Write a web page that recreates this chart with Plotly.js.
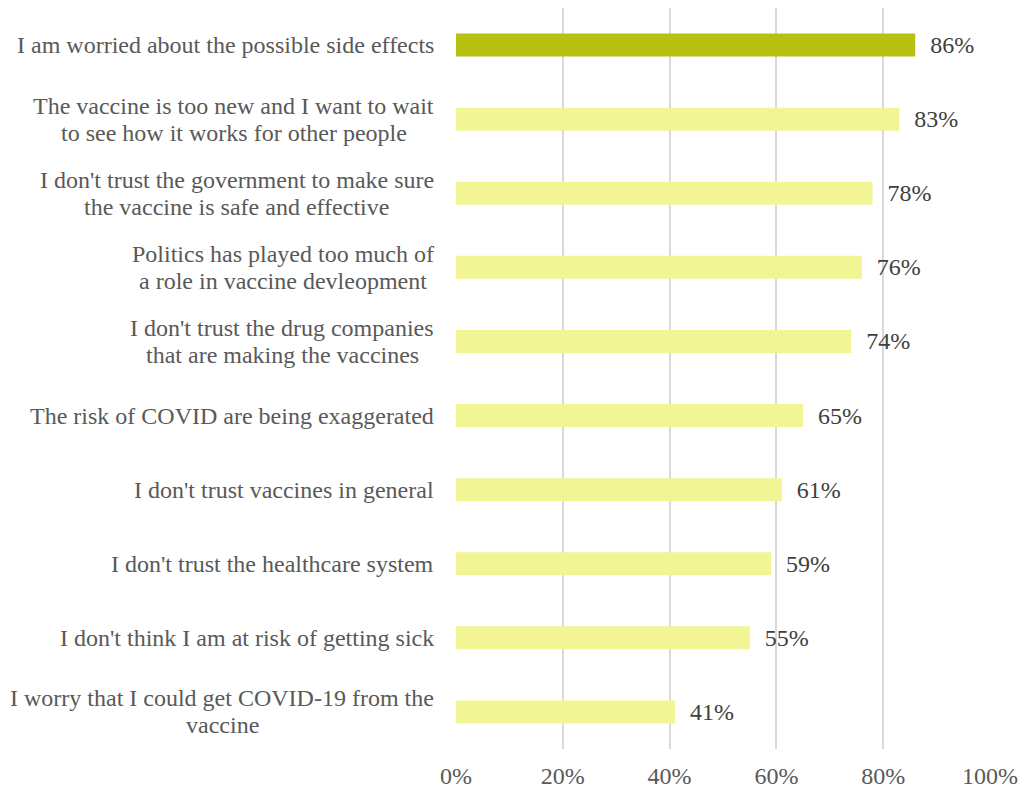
<!DOCTYPE html>
<html><head><meta charset="utf-8">
<script src="https://cdn.plot.ly/plotly-3.0.1.min.js"></script>
<style>html,body{margin:0;padding:0;background:#fff}#c{width:1019px;height:790px}</style>
</head><body><div id="c"></div>
<script>
const categories = [
  "I am worried about the possible side effects",
  "The vaccine is too new and I want to wait<br>to see how it works for other people",
  "I don't trust the government to make sure<br>the vaccine is safe and effective",
  "Politics has played too much of<br>a role in vaccine devleopment",
  "I don't trust the drug companies<br>that are making the vaccines",
  "The risk of COVID are being exaggerated",
  "I don't trust vaccines in general",
  "I don't trust the healthcare system",
  "I don't think I am at risk of getting sick",
  "I worry that I could get COVID-19 from the<br>vaccine"
];
const values = [0.86, 0.83, 0.78, 0.76, 0.74, 0.65, 0.61, 0.59, 0.55, 0.41];
const valueLabels = ["86%","83%","78%","76%","74%","65%","61%","59%","55%","41%"];
const tickVals = [0, 0.2, 0.4, 0.6, 0.8, 1.0];
const tickText = ["0%","20%","40%","60%","80%","100%"];
const highlightIndex = 0;

const FONT = "'Liberation Serif', 'Times New Roman', serif";
const LABEL_SIZE = 24;
const LINE_H = 27;
const colors = categories.map((c,i)=> i===highlightIndex ? "#B8C012" : "#F1F594");

const trace = {
  type: "bar", orientation: "h",
  x: values, y: categories,
  marker: {color: colors, line: {width: 0}},
  width: 0.31,
  text: valueLabels, textposition: "outside",
  texttemplate: "\u2002%{text}",
  constraintext: "none",
  textfont: {family: FONT, size: 24, color: "#404040"},
  cliponaxis: false,
  hoverinfo: "none"
};

// measure text to centre multi-line labels within a right-aligned block
const cv = document.createElement("canvas").getContext("2d");
cv.font = LABEL_SIZE + "px " + FONT;
const annotations = [];
categories.forEach(c => {
  const lines = c.split("<br>");
  const widths = lines.map(l => cv.measureText(l).width);
  const maxW = Math.max(...widths);
  lines.forEach((l, k) => {
    annotations.push({
      xref: "paper", yref: "y", x: 0, y: c,
      xanchor: "center", yanchor: "middle",
      xshift: -(22 + maxW / 2),
      yshift: ((lines.length - 1) / 2 - k) * LINE_H,
      showarrow: false, text: l,
      font: {family: FONT, size: LABEL_SIZE, color: "#595959"}
    });
  });
});

Plotly.newPlot("c", [trace], {
  width: 1019, height: 790,
  margin: {l: 456, r: 29, t: 8, b: 41},
  paper_bgcolor: "#fff", plot_bgcolor: "#fff",
  showlegend: false,
  xaxis: {
    range: [0, 1.0], tickvals: tickVals, ticktext: tickText,
    showgrid: true, gridcolor: "#D9D9D9", gridwidth: 2,
    zeroline: false, showline: false, ticks: "", ticklabelstandoff: 10,
    tickfont: {family: FONT, size: 24, color: "#595959"}, fixedrange: true
  },
  yaxis: {
    type: "category", autorange: "reversed", showticklabels: false,
    showgrid: false, zeroline: false, showline: false, ticks: "", fixedrange: true
  },
  annotations: annotations,
  font: {family: FONT}
}, {displayModeBar: false, staticPlot: true});
</script>
</body></html>
